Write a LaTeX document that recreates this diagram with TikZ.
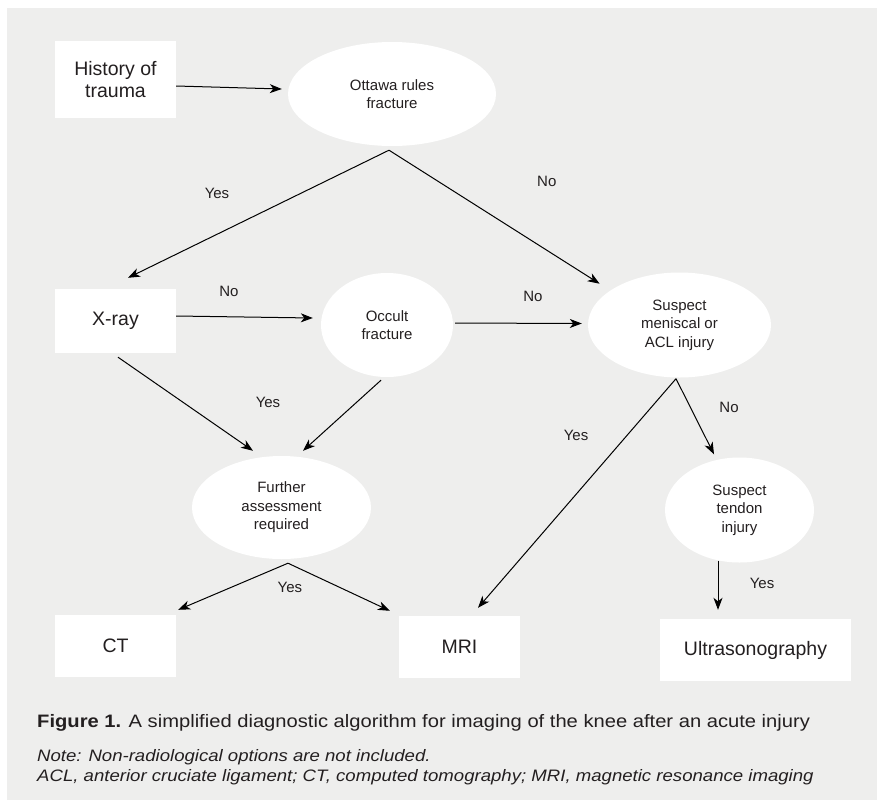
\documentclass[tikz,border=0pt]{standalone}
\usepackage{fontspec}
\setmainfont{Liberation Sans}
\newfontfamily\capfont[FakeStretch=1.12]{Liberation Sans}
\usetikzlibrary{arrows.meta,positioning,shapes.geometric}
\tikzset{>={Stealth[length=12pt,width=9pt,inset=3.5pt]}}
\definecolor{panelgrey}{HTML}{EEEEED}
\definecolor{inkgrey}{HTML}{231F20}
\tikzstyle{box} = [rectangle, minimum width=121pt, minimum height=62pt, text centered, align=center, fill=white, text=inkgrey, font=\fontsize{19.5}{22}\selectfont]
\tikzstyle{query} = [ellipse, inner sep=0pt, text centered, align=center, fill=white, text=inkgrey, font=\fontsize{15}{18.5}\selectfont]
\tikzstyle{answer} = [text=inkgrey, font=\fontsize{15}{18}\selectfont]
\tikzstyle{arrow} = [line width=1pt,->]
\tikzstyle{caption} = [anchor=west, inner sep=0pt, text=inkgrey]

\begin{document}
\begin{tikzpicture}[x=1pt,y=1pt,node distance=100pt]
\useasboundingbox (0,0) rectangle (878,-801);
\fill[panelgrey] (7,-8) rectangle (877,-800);
% boxes and questions
\node (hist) [box, minimum height=77pt] at (115.5,-79.5) {History of\\trauma};
\node (ottawa) [query, minimum width=208pt, minimum height=104pt, right of=hist, xshift=176.5pt, yshift=-14.5pt] {Ottawa rules\\fracture};
\node (xray) [box, minimum height=64pt, below of=hist, yshift=-141.5pt] {X-ray};
\node (occult) [query, minimum width=132pt, minimum height=104pt, right of=xray, xshift=171.5pt, yshift=-4pt] {Occult\\fracture};
\node (susp) [query, minimum width=183pt, minimum height=105pt, right of=occult, xshift=192.5pt] {Suspect\\meniscal or\\ACL injury};
\node (further) [query, minimum width=179pt, minimum height=103pt, below of=xray, xshift=166pt, yshift=-86.5pt] {Further\\assessment\\required};
\node (tendon) [query, minimum width=149pt, minimum height=105pt, below of=susp, xshift=60pt, yshift=-85pt] {Suspect\\tendon\\injury};
\node (ct) [box, below of=xray, yshift=-225pt] {CT};
\node (mri) [box, right of=ct, xshift=244pt, yshift=-1pt] {MRI};
\node (ultra) [box, minimum width=191pt, right of=mri, xshift=196pt, yshift=-3pt] {Ultrasonography};
% split points
\coordinate (ottawa-out) at ([xshift=-3pt,yshift=-4pt]ottawa.south);
\coordinate (susp-out) at ([xshift=-3.5pt,yshift=-1pt]susp.south);
\coordinate (further-out) at ([xshift=6.5pt,yshift=-4pt]further.south);
% connectors
\draw [arrow] ([yshift=-6.5pt]hist.east) -- ([xshift=-6pt,yshift=5pt]ottawa.west);
\draw [arrow] (ottawa-out) -- node[answer, xshift=-41.5pt, yshift=21pt] {Yes} ([xshift=12.5pt,yshift=11pt]xray.north);
\draw [arrow] (ottawa-out) -- node[answer, xshift=52.5pt, yshift=36pt] {No} ([xshift=-15pt,yshift=4pt]susp.north west);
\draw [arrow] ([yshift=5pt]xray.east) -- node[answer, xshift=-15.5pt, yshift=26pt] {No} ([xshift=-8pt,yshift=7pt]occult.west);
\draw [arrow] ([xshift=2pt,yshift=2pt]occult.east) -- node[answer, xshift=14.5pt, yshift=26.5pt] {No} ([xshift=-6pt,yshift=1.5pt]susp.west);
\draw [arrow] ([xshift=2.5pt,yshift=-4pt]xray.south) -- node[answer, xshift=82.5pt, yshift=2pt] {Yes} ([xshift=-28.5pt,yshift=5pt]further.north);
\draw [arrow] ([xshift=-6pt,yshift=-3pt]occult.south) -- ([xshift=21.5pt,yshift=5pt]further.north);
\draw [arrow] (susp-out) -- node[answer, xshift=-1pt, yshift=57.5pt] {Yes} ([xshift=18.5pt,yshift=8pt]mri.north);
\draw [arrow] (susp-out) -- node[answer, xshift=34pt, yshift=9pt] {No} ([xshift=-25.5pt,yshift=3pt]tendon.north);
\draw [arrow] ([xshift=-21.5pt,yshift=2pt]tendon.south) -- node[answer, xshift=44pt, yshift=1.5pt] {Yes} ([xshift=-37.5pt,yshift=9pt]ultra.north);
\draw [arrow] (further-out) -- ([xshift=2pt,yshift=5pt]ct.north east);
\draw [arrow] (further-out) -- node[answer, xshift=-49pt] {Yes} ([xshift=-9pt,yshift=5pt]mri.north west);
% caption
\node (fig) [caption, font=\capfont\fontsize{18}{21}\selectfont] at (37,-723) {\textbf{Figure 1.} A simplified diagnostic algorithm for imaging of the knee after an acute injury};
\node (note) [caption, font=\capfont\itshape\fontsize{16.6}{19}\selectfont] at (37,-757) {Note: Non-radiological options are not included.};
\node (abbr) [caption, font=\capfont\itshape\fontsize{16.6}{19}\selectfont] at (37,-777) {ACL, anterior cruciate ligament; CT, computed tomography; MRI, magnetic resonance imaging};
\end{tikzpicture}
\end{document}
